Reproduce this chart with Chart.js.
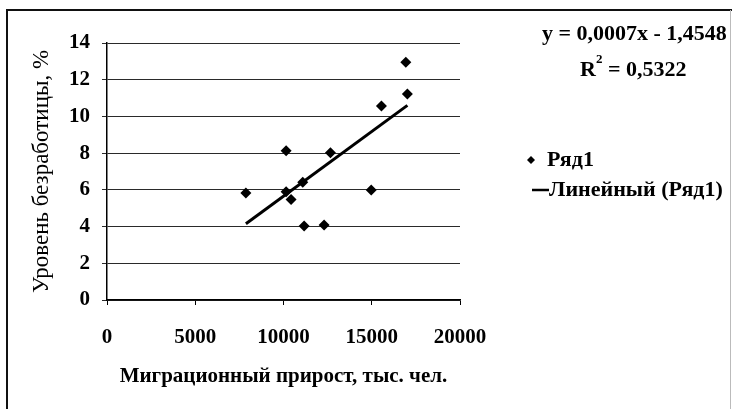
<!DOCTYPE html>
<html>
<head>
<meta charset="utf-8">
<script src="https://cdn.jsdelivr.net/npm/chart.js@4/dist/chart.umd.min.js"></script>
<style>
html,body{margin:0;padding:0;background:#fff;}
#wrap{position:relative;width:732px;height:409px;}
canvas{display:block;}
</style>
</head>
<body>
<div id="wrap"><canvas id="c" width="732" height="409"></canvas></div>
<script>
// Data
const migration = [7870, 10150, 10150, 10430, 11090, 11170, 12300, 12660, 14970, 15550, 16930, 17020];
const unemployment = [5.83, 8.13, 5.90, 5.48, 6.41, 4.03, 4.08, 8.02, 5.99, 10.57, 12.95, 11.22];
const trendX = [7870, 17020];
const trendY = [4.15, 10.6];
const xTicks = [0, 5000, 10000, 15000, 20000];
const yTicks = [0, 2, 4, 6, 8, 10, 12, 14];
const seriesName = 'Ряд1';
const trendName = 'Линейный (Ряд1)';
const equationText = 'y = 0,0007x - 1,4548';
const r2Label = 'R';
const r2Value = ' = 0,5322';
const xTitle = 'Миграционный прирост, тыс. чел.';
const yTitle = 'Уровень безработицы, %';

const SERIF = "'Liberation Serif', 'Times New Roman', serif";

const frame = {
  id: 'frame',
  beforeDraw(chart) {
    const ctx = chart.ctx;
    ctx.save();
    ctx.fillStyle = '#fff';
    ctx.fillRect(0, 0, chart.width, chart.height);
    ctx.strokeStyle = '#111';
    ctx.lineWidth = 2;
    ctx.beginPath();
    ctx.moveTo(7, 409); ctx.lineTo(7, 10); ctx.lineTo(732, 10);
    ctx.stroke();
    ctx.strokeStyle = '#bbb';
    ctx.lineWidth = 1;
    ctx.beginPath();
    ctx.moveTo(730.5, 10); ctx.lineTo(730.5, 409);
    ctx.stroke();
    ctx.restore();
  },
  afterDraw(chart) {
    const ctx = chart.ctx;
    ctx.save();
    ctx.fillStyle = '#000';
    ctx.textBaseline = 'middle';
    ctx.font = 'bold 22px ' + SERIF;
    ctx.textAlign = 'left';
    ctx.fillText(equationText, 542, 34);
    // R^2 line
    let x = 580;
    ctx.fillText(r2Label, x, 70);
    x += ctx.measureText(r2Label).width;
    ctx.font = 'bold 13px ' + SERIF;
    ctx.fillText('2', x, 60);
    x += ctx.measureText('2').width;
    ctx.font = 'bold 22px ' + SERIF;
    ctx.fillText(r2Value, x, 70);
    // legend
    const ds0 = chart.data.datasets[0];
    ctx.fillStyle = ds0.backgroundColor;
    ctx.beginPath();
    ctx.moveTo(527, 160); ctx.lineTo(531, 156); ctx.lineTo(535, 160); ctx.lineTo(531, 164);
    ctx.closePath(); ctx.fill();
    ctx.fillStyle = '#000';
    ctx.fillText(seriesName, 547, 160);
    const ds1 = chart.data.datasets[1];
    ctx.strokeStyle = ds1.borderColor;
    ctx.lineWidth = 2.5;
    ctx.beginPath(); ctx.moveTo(532, 190); ctx.lineTo(549, 190); ctx.stroke();
    ctx.fillText(trendName, 549, 190);
    ctx.restore();
  }
};

new Chart(document.getElementById('c'), {
  type: 'scatter',
  data: {
    datasets: [
      {
        label: seriesName,
        data: migration.map((v, i) => ({x: v, y: unemployment[i]})),
        pointStyle: 'rectRot',
        pointRadius: 5.5,
        pointHoverRadius: 5.5,
        backgroundColor: '#000',
        borderColor: '#000',
        borderWidth: 0,
        order: 1
      },
      {
        label: trendName,
        type: 'line',
        data: trendX.map((v, i) => ({x: v, y: trendY[i]})),
        borderColor: '#000',
        borderWidth: 3,
        pointRadius: 0,
        fill: false,
        order: 2
      }
    ]
  },
  options: {
    responsive: false,
    animation: false,
    layout: {padding: {left: 0, top: 43, right: 272, bottom: 0}},
    plugins: {legend: {display: false}, tooltip: {enabled: false}},
    scales: {
      x: {
        type: 'linear',
        min: 0, max: 20000,
        afterBuildTicks(s) { s.ticks = xTicks.map(v => ({value: v})); },
        afterFit(s) { s.height = 109; },
        ticks: {color: '#000', padding: 20, maxRotation: 0, callback: v => String(v),
                font: {family: SERIF, size: 21, weight: 'bold'}},
        grid: {drawOnChartArea: false, drawTicks: true, tickLength: 5, color: '#000'},
        border: {display: true, color: '#000', width: 1.5},
        title: {display: true, text: xTitle, color: '#000', padding: {top: 20, bottom: 20},
                font: {family: SERIF, size: 21, weight: 'bold'}}
      },
      y: {
        type: 'linear',
        min: 0, max: 14,
        afterBuildTicks(s) { s.ticks = yTicks.map(v => ({value: v})); },
        afterFit(s) { s.width = 107; },
        ticks: {color: '#000', padding: 12, callback: v => String(v),
                font: {family: SERIF, size: 21, weight: 'bold'}},
        grid: {color: '#2a2a2a', lineWidth: 1, tickLength: 5, drawTicks: true},
        border: {display: true, color: '#000', width: 1.5},
        title: {display: true, text: yTitle, color: '#000', padding: {top: 28, bottom: 28},
                font: {family: SERIF, size: 23, weight: 'normal'}}
      }
    }
  },
  plugins: [frame]
});
</script>
</body>
</html>
